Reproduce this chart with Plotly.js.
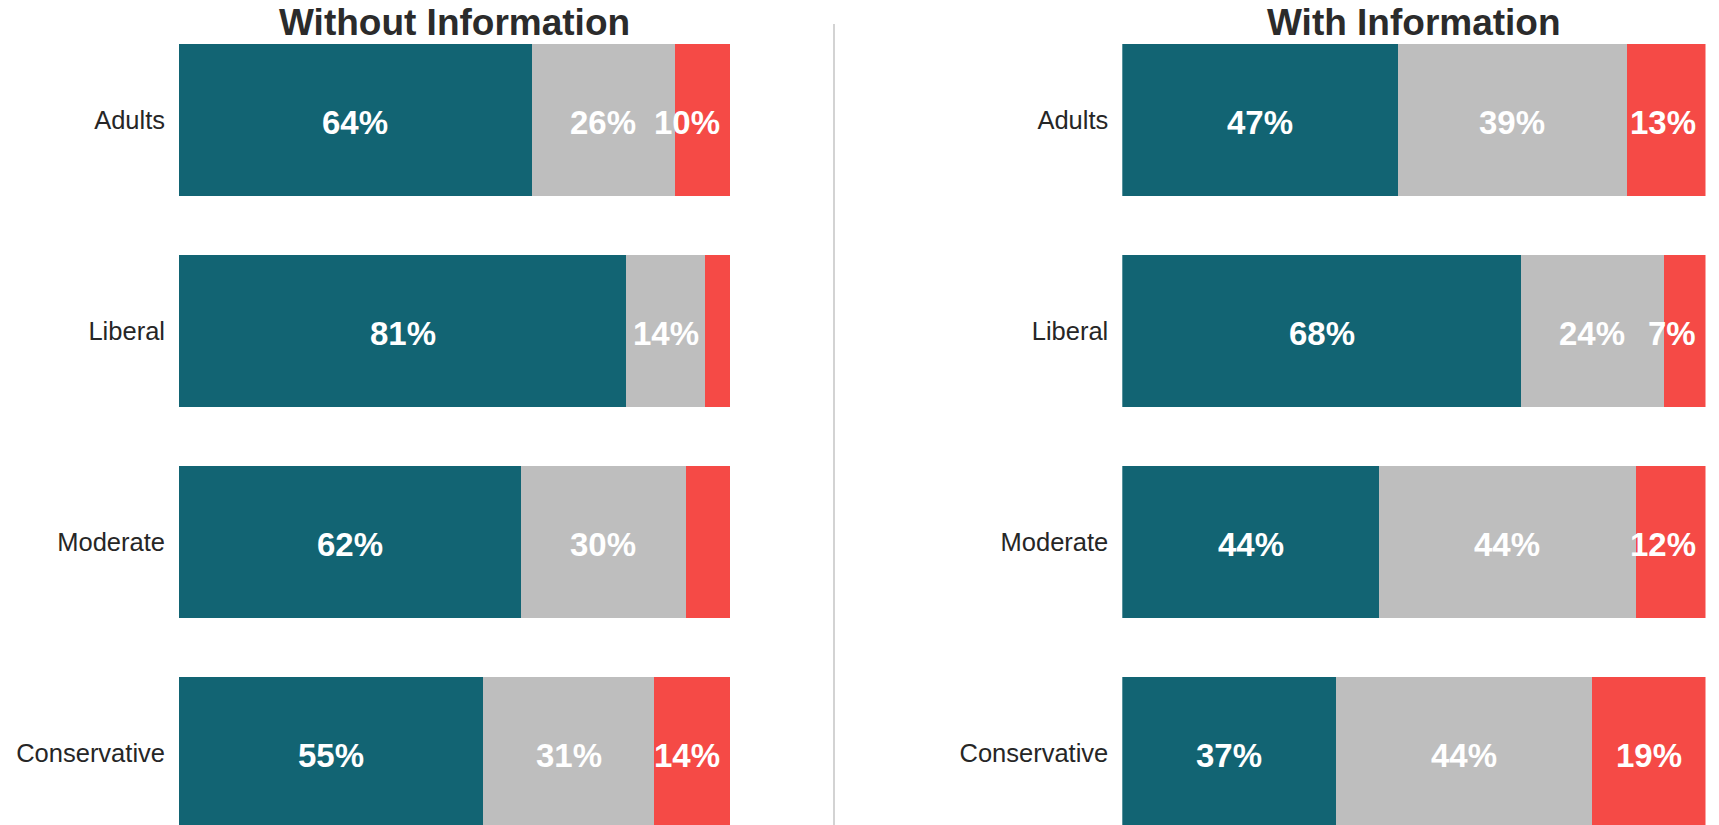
<!DOCTYPE html>
<html>
<head>
<meta charset="utf-8">
<script src="https://cdn.plot.ly/plotly-3.0.1.min.js"></script>
<style>html,body{margin:0;padding:0;background:#fff;}#chart{width:1719px;height:825px;}</style>
</head>
<body>
<div id="chart"></div>
<script>
// ---------- data ----------
const categories = ["Adults", "Liberal", "Moderate", "Conservative"];
const panelTitles = ["Without Information", "With Information"];

// Without Information (percent of respondents)
const withoutTeal = [64, 81.2, 62, 55.2];
const withoutGray = [26, 14.2, 30, 31.0];
const withoutRed  = [10, 4.6, 8, 13.8];
const withoutTealLabels = ["64%", "81%", "62%", "55%"];
const withoutGrayLabels = ["26%", "14%", "30%", "31%"];
const withoutRedLabels  = ["10%", "", "", "14%"];

// With Information
const withTeal = [47.2, 68.4, 44, 36.6];
const withGray = [39.4, 24.4, 44, 44.0];
const withRed  = [13.4, 7.2, 12, 19.4];
const withTealLabels = ["47%", "68%", "44%", "37%"];
const withGrayLabels = ["39%", "24%", "44%", "44%"];
const withRedLabels  = ["13%", "7%", "12%", "19%"];

// ---------- style ----------
const W = 1719, H = 825;
const colors = ["#126473", "#bebebe", "#f54a46"];
const fontFamily = "'Liberation Sans', Arial, sans-serif";
const labelFontSize = 33;
const domains = [[179 / W, 730 / W], [1122.3 / W, 1705.5 / W]];
const yRange = [3.341, -0.5687];

const panels = [
  {series: [withoutTeal, withoutGray, withoutRed], labels: [withoutTealLabels, withoutGrayLabels, withoutRedLabels]},
  {series: [withTeal, withGray, withRed], labels: [withTealLabels, withGrayLabels, withRedLabels]}
];

const traces = [];
const annotations = [];

const canvas = document.createElement("canvas");
const ctx = canvas.getContext("2d");
ctx.font = "bold " + labelFontSize + "px 'Liberation Sans', Arial, sans-serif";

panels.forEach((p, pi) => {
  const xa = pi === 0 ? "x" : "x2";
  const ya = pi === 0 ? "y" : "y2";
  p.series.forEach((vals, si) => {
    traces.push({
      type: "bar", orientation: "h",
      x: vals, y: categories,
      xaxis: xa, yaxis: ya,
      marker: {color: colors[si], line: {width: 0}},
      hoverinfo: "skip", showlegend: false
    });
  });
  // segment labels
  const pxWidth = (domains[pi][1] - domains[pi][0]) * W;
  const pxPerUnit = pxWidth / 100;
  const pad = 8;
  categories.forEach((cat, ci) => {
    let start = 0;
    p.series.forEach((vals, si) => {
      const v = vals[ci];
      const txt = p.labels[si][ci];
      if (txt) {
        const center = start + v / 2;
        const half = ctx.measureText(txt).width / 2;
        const fits = center * pxPerUnit + half <= pxWidth - pad;
        annotations.push({
          xref: xa, yref: ya,
          x: fits ? center : 100,
          xanchor: fits ? "center" : "right",
          xshift: fits ? 0 : -pad,
          y: cat, yanchor: "middle", yshift: -2,
          text: "<b>" + txt + "</b>", showarrow: false,
          font: {family: fontFamily, size: labelFontSize, color: "#ffffff"}
        });
      }
      start += v;
    });
  });
  annotations.push({
    xref: "paper", yref: "paper",
    x: (domains[pi][0] + domains[pi][1]) / 2, y: 1 - 23 / H,
    xanchor: "center", yanchor: "middle",
    text: "<b>" + panelTitles[pi] + "</b>", showarrow: false,
    font: {family: fontFamily, size: 37, color: "#2b2b2b"}
  });
});

const yaxisBase = {
  type: "category", categoryarray: categories, range: yRange, autorange: false,
  showgrid: false, zeroline: false, showline: false, ticks: "",
  ticklabelstandoff: 13,
  tickfont: {family: fontFamily, size: 25.5, color: "#262626"}
};
const xaxisBase = {
  range: [0, 100], autorange: false, showgrid: false, zeroline: false,
  showline: false, showticklabels: false, ticks: ""
};

const layout = {
  width: W, height: H,
  margin: {l: 0, r: 0, t: 0, b: 0, pad: 0},
  paper_bgcolor: "#ffffff", plot_bgcolor: "#ffffff",
  barmode: "stack", bargap: 0.28, showlegend: false,
  xaxis: Object.assign({}, xaxisBase, {domain: domains[0], anchor: "y"}),
  xaxis2: Object.assign({}, xaxisBase, {domain: domains[1], anchor: "y2"}),
  yaxis: Object.assign({}, yaxisBase, {anchor: "x", domain: [0, 1]}),
  yaxis2: Object.assign({}, yaxisBase, {anchor: "x2", domain: [0, 1]}),
  annotations: annotations,
  shapes: [{
    type: "line", xref: "paper", yref: "paper",
    x0: 834 / W, x1: 834 / W, y0: 1 - 24 / H, y1: 0,
    line: {color: "#d3d3d3", width: 2}
  }]
};

Plotly.newPlot("chart", traces, layout, {displayModeBar: false, staticPlot: true});
</script>
</body>
</html>
